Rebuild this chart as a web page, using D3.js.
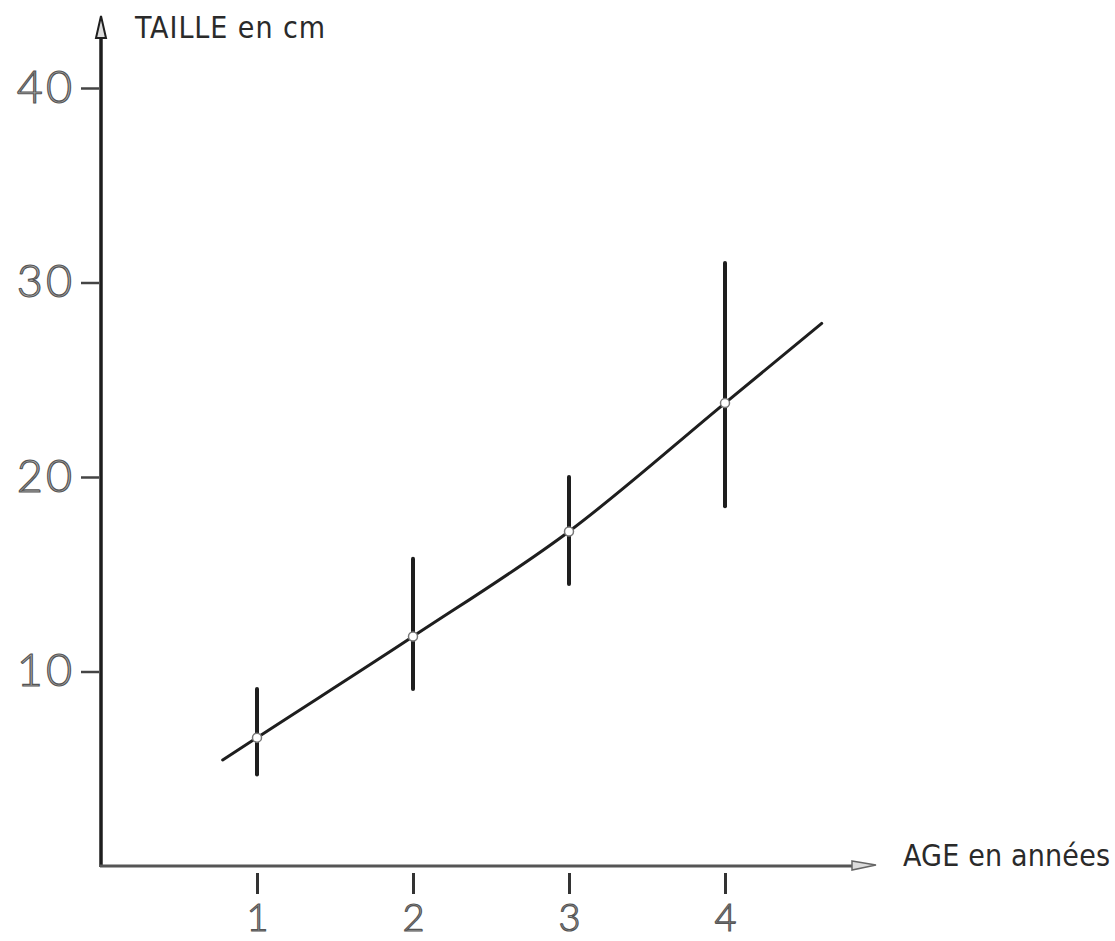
<!DOCTYPE html>
<html>
<head>
<meta charset="utf-8">
<script src="https://cdn.jsdelivr.net/npm/d3@7"></script>
<style>
  body { margin: 0; background: #fff; }
</style>
</head>
<body>
<script>
let width = 1115;
let height = 941;

// values
let ages = [1, 2, 3, 4];
let means = [6.6, 11.8, 17.2, 23.8];
let lows = [4.7, 9.1, 14.5, 18.5];
let highs = [9.1, 15.8, 20.0, 31.0];
let curveAges = [0.78, 1, 2, 3, 4, 4.62];
let curveSizes = [5.45, 6.6, 11.8, 17.2, 23.8, 27.9];
let yTicks = [10, 20, 30, 40];
let xTicks = [1, 2, 3, 4];

let svg = d3.select("body")
            .append("svg")
            .attr("width", width)
            .attr("height", height);

let x = d3.scaleLinear().domain([0, 4]).range([101, 725]);
let y = d3.scaleLinear().domain([0, 40]).range([866, 88]);

let ink = "#1e1e1e";

// y axis
let yAxis = svg.append("g")
    .attr("transform", `translate(${x(0)},0)`)
    .call(d3.axisLeft(y).tickValues(yTicks).tickSize(20).tickPadding(6));
yAxis.select(".domain").remove();
yAxis.selectAll(".tick line")
    .attr("x1", -2)
    .style("stroke", "#444")
    .style("stroke-width", "2.5");
yAxis.selectAll(".tick text")
    .style("font-family", "Lato, 'Open Sans', sans-serif")
    .style("font-weight", "300")
    .style("font-size", "45px")
    .style("letter-spacing", "3px")
    .style("fill", "#b5b5b5")
    .style("stroke", "#555")
    .style("stroke-width", "1.2");

svg.append("line")
    .attr("x1", x(0))
    .attr("y1", 36)
    .attr("x2", x(0))
    .attr("y2", y(0) + 1)
    .style("stroke", ink)
    .style("stroke-width", "3.5");

// arrow head on top of y axis
svg.append("path")
    .attr("d", `M${x(0) - 5},38 L${x(0)},16 L${x(0) + 5},38 Z`)
    .style("fill", "#ddd")
    .style("stroke", ink)
    .style("stroke-width", "2");

svg.append("text")
    .attr("x", 135)
    .attr("y", 38)
    .attr("textLength", 190)
    .attr("lengthAdjust", "spacing")
    .style("font-family", "'DejaVu Sans Condensed', 'Liberation Sans Narrow', sans-serif")
    .style("font-weight", "300")
    .style("font-size", "30px")
    .style("fill", "#2a2a2a")
    .text("TAILLE en cm");

// x axis
let xAxis = svg.append("g")
    .attr("transform", `translate(0,${y(0)})`)
    .call(d3.axisBottom(x).tickValues(xTicks).tickFormat(d3.format("d")).tickSize(28).tickPadding(10));
xAxis.select(".domain").remove();
xAxis.selectAll(".tick line")
    .attr("y1", 7)
    .style("stroke", "#333")
    .style("stroke-width", "3");
xAxis.selectAll(".tick text")
    .style("font-family", "Lato, 'Open Sans', sans-serif")
    .style("font-weight", "300")
    .style("font-size", "38px")
    .style("fill", "#b5b5b5")
    .style("stroke", "#555")
    .style("stroke-width", "1.2");

svg.append("line")
    .attr("x1", x(0) - 1)
    .attr("y1", y(0))
    .attr("x2", 856)
    .attr("y2", y(0))
    .style("stroke", "#555")
    .style("stroke-width", "3");

svg.append("path")
    .attr("d", `M852,${y(0) - 5} L876,${y(0) - 1} L852,${y(0) + 4} Z`)
    .style("fill", "#ddd")
    .style("stroke", "#666")
    .style("stroke-width", "1.5");

svg.append("text")
    .attr("x", 903)
    .attr("y", 866)
    .attr("textLength", 207)
    .attr("lengthAdjust", "spacing")
    .style("font-family", "'DejaVu Sans Condensed', 'Liberation Sans Narrow', sans-serif")
    .style("font-weight", "300")
    .style("font-size", "30px")
    .style("fill", "#2a2a2a")
    .text("AGE en années");

// fitted growth curve
let line = d3.line()
    .x((d, i) => x(curveAges[i]))
    .y((d) => y(d))
    .curve(d3.curveMonotoneX);

svg.append("path")
    .attr("d", line(curveSizes))
    .style("fill", "none")
    .style("stroke", ink)
    .style("stroke-width", "3")
    .style("stroke-linecap", "round");

// error bars
svg.selectAll(".bar")
    .data(ages)
    .enter()
    .append("line")
    .attr("class", "bar")
    .attr("x1", (d) => x(d))
    .attr("x2", (d) => x(d))
    .attr("y1", (d, i) => y(highs[i]))
    .attr("y2", (d, i) => y(lows[i]))
    .style("stroke", ink)
    .style("stroke-width", "4")
    .style("stroke-linecap", "round");

// mean points
svg.selectAll(".pt")
    .data(ages)
    .enter()
    .append("circle")
    .attr("class", "pt")
    .attr("cx", (d) => x(d))
    .attr("cy", (d, i) => y(means[i]))
    .attr("r", 4.5)
    .style("fill", "#fff")
    .style("stroke", "#777")
    .style("stroke-width", "1.5");
</script>
</body>
</html>
